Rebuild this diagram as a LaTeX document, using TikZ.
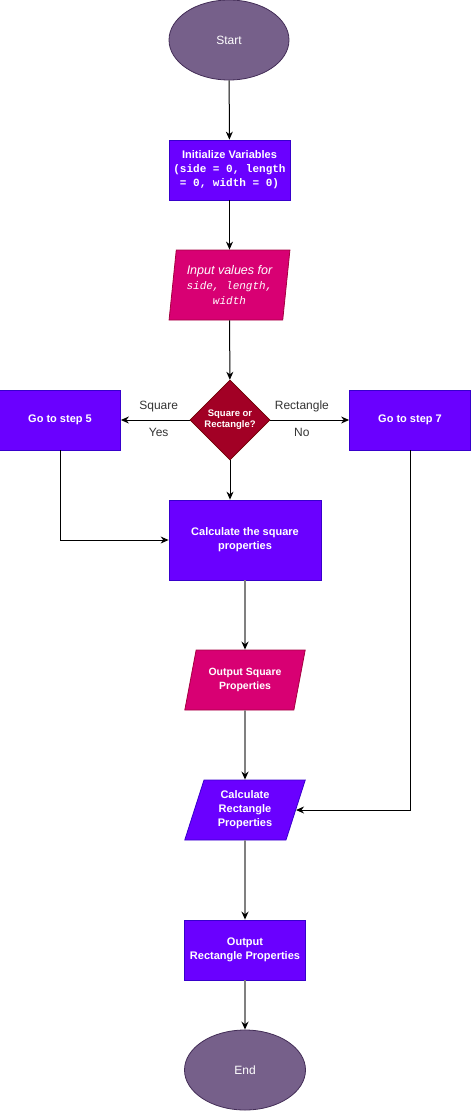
\documentclass[tikz,border=0pt]{standalone}
\usepackage{fontspec}
\setmainfont{Liberation Sans}
\newfontfamily\codefont{Liberation Mono}
\usetikzlibrary{shapes.geometric,arrows.meta}
\definecolor{termfill}{HTML}{76608A}
\definecolor{termline}{HTML}{432D57}
\definecolor{procfill}{HTML}{6A00FF}
\definecolor{procline}{HTML}{3700CC}
\definecolor{iofill}{HTML}{D80073}
\definecolor{ioline}{HTML}{A50040}
\definecolor{decfill}{HTML}{A20025}
\definecolor{decline}{HTML}{6F0000}
\begin{document}
\begin{tikzpicture}[x=1pt,y=-1pt,
    base/.style={text=white, align=center, inner sep=2pt, line width=0.8pt, font=\fontsize{12}{14}\selectfont},
    term/.style={base, ellipse, draw=termline, fill=termfill, minimum width=120, minimum height=80},
    proc/.style={base, rectangle, draw=procline, fill=procfill, font=\fontsize{11}{14}\selectfont\bfseries, minimum width=121, minimum height=60},
    io/.style={base, trapezium, trapezium stretches=true, trapezium left angle=72, trapezium right angle=108, minimum width=121, minimum height=60},
    dec/.style={base, diamond, draw=decline, fill=decfill, font=\fontsize{9.5}{11}\selectfont\bfseries, inner sep=0pt, minimum width=80, minimum height=80},
    arr/.style={-{Stealth[length=8pt,width=7pt,black]}, black, line width=1pt},
    grayarr/.style={arr, draw=gray, line width=1.6pt},
    lbl/.style={font=\fontsize{12}{14}\selectfont, text=black!80}]
    \useasboundingbox (0,0) rectangle (471,1111);
    % main column
    \node[term] (start) at (229,40) {Start};
    \node[proc] (init) at (229.5,170) {Initialize Variables\\{\codefont\fontsize{11}{14.5}\selectfont(side = 0, length}\\{\codefont\fontsize{11}{14.5}\selectfont = 0, width = 0)}};
    \node[io, draw=ioline, fill=iofill, trapezium left angle=82, trapezium right angle=98, minimum height=70,
        font=\fontsize{12.5}{15}\selectfont\itshape] (input) at (229.5,285)
        {Input values for\\{\codefont\fontsize{11}{15}\selectfont\itshape side, length,}\\{\codefont\fontsize{11}{15}\selectfont\itshape width}};
    \node[dec] (choice) at (230,420) {Square or\\Rectangle?};
    \node[proc] (gofive) at (60,420) {Go to step 5};
    \node[proc] (goseven) at (410,420) {Go to step 7};
    \node[proc, minimum width=152, minimum height=80] (calcsq) at (245,540) {Calculate the square\\properties};
    \node[io, draw=ioline, fill=iofill, font=\fontsize{10.5}{14}\selectfont\bfseries] (outsq) at (245,680) {Output Square\\Properties};
    \node[io, draw=procline, fill=procfill, font=\fontsize{11}{14}\selectfont\bfseries] (calcrect) at (245,810) {Calculate\\Rectangle\\Properties};
    \node[proc] (outrect) at (245,950) {Output\\Rectangle Properties};
    \node[term, minimum width=121] (end) at (245,1070) {End};
    % connectors
    \draw[arr] (start) -- (init);
    \draw[arr] (init) -- (input);
    \draw[arr] (input) -- (choice);
    \draw[arr] (choice.west) -- node[lbl, pos=0.45, above=4pt] {Square} node[lbl, pos=0.45, below=4pt] {Yes} (gofive.east);
    \draw[arr] (choice.east) -- node[lbl, pos=0.4, above=4pt] {Rectangle} node[lbl, pos=0.4, below=4pt] {No} (goseven.west);
    \draw[arr] (choice.south) -- (choice.south |- calcsq.north);
    \draw[arr] (gofive.south) |- (calcsq.west);
    \draw[arr] (goseven.south) |- (calcrect.east);
    \draw[grayarr] (calcsq) -- (outsq);
    \draw[grayarr] (outsq) -- (calcrect);
    \draw[grayarr] (calcrect) -- (outrect);
    \draw[grayarr] (outrect) -- (end);
\end{tikzpicture}
\end{document}
